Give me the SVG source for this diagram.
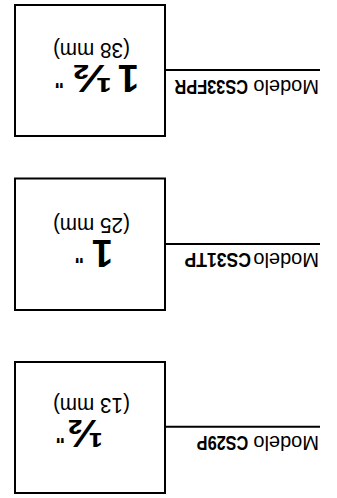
<svg xmlns="http://www.w3.org/2000/svg" width="337" height="498" viewBox="0 0 337 498">
<style>
.box{fill:#fff;stroke:#000;stroke-width:2}
.conn{stroke:#000;stroke-width:2;fill:none}
.lbl{font-family:"Liberation Sans",Arial,sans-serif;font-size:20px;fill:#000}
.code{font-family:"Liberation Sans",Arial,sans-serif;font-size:20px;font-weight:bold;fill:#000}
.big{font-family:"Liberation Sans",Arial,sans-serif;font-size:38px;font-weight:bold;fill:#000}
.inch{font-family:"Liberation Sans",Arial,sans-serif;font-size:20px;font-weight:bold;fill:#000}
.mm{font-family:"Liberation Sans",Arial,sans-serif;font-size:22px;fill:#000}
</style>
<rect width="337" height="498" fill="#fff"/>
<g transform="rotate(180 168.5 249)">
  <g id="connectors">
    <line class="conn" x1="17" y1="71.3" x2="172" y2="71.3"/>
    <line class="conn" x1="17" y1="254" x2="172" y2="254"/>
    <line class="conn" x1="17" y1="428" x2="172" y2="428"/>
  </g>
  <g id="node-cs29p">
    <rect class="box" x="172" y="5" width="150" height="131"/>
    <text class="big" x="234" y="78" textLength="36" lengthAdjust="spacingAndGlyphs">½</text>
    <text class="inch" x="272" y="69">"</text>
    <text class="mm" x="207" y="100" textLength="77" lengthAdjust="spacingAndGlyphs">(13 mm)</text>
    <text class="lbl" x="18" y="62">Modelo</text>
    <text class="code" x="88.7" y="62" textLength="51.6" lengthAdjust="spacingAndGlyphs">CS29P</text>
  </g>
  <g id="node-cs31tp">
    <rect class="box" x="172" y="188" width="150" height="131.5"/>
    <text class="big" x="224" y="258">1</text>
    <text class="inch" x="253" y="249">"</text>
    <text class="mm" x="207" y="280" textLength="77" lengthAdjust="spacingAndGlyphs">(25 mm)</text>
    <text class="lbl" x="18" y="245">Modelo</text>
    <text class="code" x="86" y="245" textLength="66.5" lengthAdjust="spacingAndGlyphs">CS31TP</text>
  </g>
  <g id="node-cs33fpr">
    <rect class="box" x="172" y="362" width="150" height="131"/>
    <text class="big" x="198" y="433">1</text>
    <text class="big" x="225" y="433" textLength="40" lengthAdjust="spacingAndGlyphs">½</text>
    <text class="inch" x="273" y="424">"</text>
    <text class="mm" x="207" y="455" textLength="77" lengthAdjust="spacingAndGlyphs">(38 mm)</text>
    <text class="lbl" x="18" y="418">Modelo</text>
    <text class="code" x="89" y="418" textLength="73.5" lengthAdjust="spacingAndGlyphs">CS33FPR</text>
  </g>
</g>
</svg>
